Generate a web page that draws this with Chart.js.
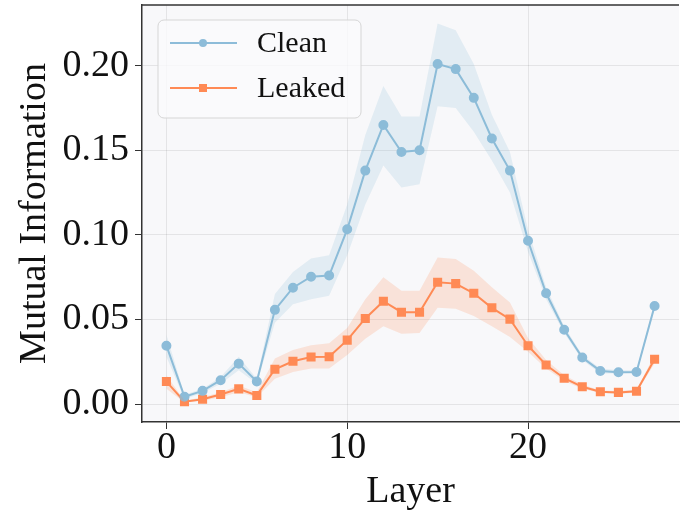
<!DOCTYPE html>
<html>
<head>
<meta charset="utf-8">
<script src="https://cdn.jsdelivr.net/npm/chart.js@4/dist/chart.umd.min.js"></script>
<style>
  html, body { margin: 0; padding: 0; background: #ffffff; overflow: hidden; }
  #wrap { width: 681px; height: 512px; overflow: hidden; }
  /* the plot is clipped on the right like the reference, so the canvas is a bit wider */
  #myChart { display: block; margin-top: -2px; }
</style>
</head>
<body>
<div id="wrap"><canvas id="myChart" width="686" height="514"></canvas></div>
<script>
// data
const layers = [0,1,2,3,4,5,6,7,8,9,10,11,12,13,14,15,16,17,18,19,20,21,22,23,24,25,26,27];

const cleanMean  = [0.0345,0.0043,0.0078,0.0141,0.0239,0.0133,0.0557,0.0688,0.0753,0.0760,0.1033,0.1380,0.1650,0.1490,0.1500,0.2010,0.1980,0.1810,0.1570,0.1380,0.0965,0.0655,0.0439,0.0275,0.0196,0.0188,0.0190,0.0580];
const cleanUpper = [0.0410,0.0055,0.0090,0.0160,0.0280,0.0150,0.0650,0.0780,0.0860,0.0880,0.1180,0.1590,0.1880,0.1700,0.1700,0.2250,0.2210,0.2010,0.1710,0.1490,0.1030,0.0690,0.0460,0.0290,0.0210,0.0200,0.0200,0.0600];
const cleanLower = [0.0280,0.0030,0.0065,0.0120,0.0200,0.0120,0.0480,0.0590,0.0620,0.0640,0.0880,0.1180,0.1410,0.1280,0.1300,0.1760,0.1750,0.1610,0.1440,0.1250,0.0900,0.0620,0.0420,0.0260,0.0180,0.0180,0.0180,0.0560];

const leakMean  = [0.0133,0.0014,0.0029,0.0057,0.0090,0.0051,0.0206,0.0253,0.0278,0.0280,0.0378,0.0506,0.0608,0.0543,0.0543,0.0720,0.0712,0.0655,0.0569,0.0502,0.0345,0.0231,0.0153,0.0102,0.0073,0.0069,0.0076,0.0265];
const leakUpper = [0.0170,0.0020,0.0040,0.0070,0.0110,0.0070,0.0270,0.0320,0.0347,0.0360,0.0450,0.0620,0.0750,0.0670,0.0670,0.0867,0.0857,0.0788,0.0690,0.0600,0.0390,0.0260,0.0170,0.0115,0.0080,0.0077,0.0085,0.0290];
const leakLower = [0.0090,0.0010,0.0020,0.0040,0.0070,0.0040,0.0150,0.0190,0.0210,0.0210,0.0290,0.0386,0.0460,0.0415,0.0420,0.0570,0.0563,0.0520,0.0460,0.0396,0.0310,0.0210,0.0137,0.0090,0.0065,0.0060,0.0068,0.0240];

const xTicks = [0, 10, 20];
const yTicks = [0, 0.05, 0.10, 0.15, 0.20];

const blue = '#8dbcd9';
const orange = '#ff8a55';
const serif = "'Liberation Serif', 'Times New Roman', serif";

function pts(ys) {
  return layers.map((x, i) => ({ x: x, y: ys[i] }));
}

function band(ys, fillTo, color) {
  return {
    data: pts(ys), fill: fillTo, backgroundColor: color,
    borderWidth: 0, pointRadius: 0, pointHoverRadius: 0, tension: 0
  };
}

// plot background, top spine and legend
const decor = {
  id: 'decor',
  beforeDraw(chart) {
    const a = chart.chartArea, c = chart.ctx;
    c.save();
    c.fillStyle = '#f8f8fa';
    c.fillRect(a.left, a.top, a.right - a.left, a.bottom - a.top);
    c.restore();
  },
  afterDraw(chart) {
    const a = chart.chartArea, c = chart.ctx;
    c.save();
    c.strokeStyle = '#333333';
    c.lineWidth = 1.5;
    c.beginPath();
    c.moveTo(a.left, a.top);
    c.lineTo(a.right, a.top);
    c.stroke();

    // legend box (canvas is shifted up 2px)
    const bx = 158, by = 22, bw = 203, bh = 98, r = 6;
    c.beginPath();
    c.roundRect(bx, by, bw, bh, r);
    c.fillStyle = 'rgba(250,250,252,0.8)';
    c.fill();
    c.strokeStyle = '#d6d6d6';
    c.lineWidth = 1;
    c.stroke();

    const items = [
      { label: 'Clean', color: blue, y: 45, marker: 'circle' },
      { label: 'Leaked', color: orange, y: 90, marker: 'rect' }
    ];
    items.forEach(it => {
      c.strokeStyle = it.color;
      c.lineWidth = 2;
      c.beginPath();
      c.moveTo(170, it.y);
      c.lineTo(237, it.y);
      c.stroke();
      c.fillStyle = it.color;
      if (it.marker === 'circle') {
        c.beginPath();
        c.arc(203, it.y, 4, 0, Math.PI * 2);
        c.fill();
      } else {
        c.fillRect(199, it.y - 4, 8, 8);
      }
      c.fillStyle = '#111111';
      c.font = '30px ' + serif;
      c.textBaseline = 'middle';
      c.textAlign = 'left';
      c.fillText(it.label, 257, it.y + 1);
    });
    c.restore();
  }
};

const ctx = document.getElementById('myChart').getContext('2d');

const chartsData = {
  type: 'line',
  data: {
    datasets: [
      band(cleanUpper, '+1', 'rgba(141,188,217,0.2)'),
      band(cleanLower, false, 'rgba(0,0,0,0)'),
      band(leakUpper, '+1', 'rgba(255,138,85,0.2)'),
      band(leakLower, false, 'rgba(0,0,0,0)'),
      {
        label: 'Clean', data: pts(cleanMean), borderColor: blue, backgroundColor: blue,
        borderWidth: 2, pointStyle: 'circle', pointRadius: 4, fill: false, tension: 0
      },
      {
        label: 'Leaked', data: pts(leakMean), borderColor: orange, backgroundColor: orange,
        borderWidth: 2, pointStyle: 'rect', pointRadius: 5, fill: false, tension: 0
      }
    ]
  },
  options: {
    responsive: false,
    animation: false,
    layout: { padding: { top: 3, right: 0, left: 0, bottom: 0 } },
    plugins: { legend: { display: false }, tooltip: { enabled: false } },
    scales: {
      x: {
        type: 'linear', min: -1.35, max: 28.35,
        afterBuildTicks: s => { s.ticks = xTicks.map(v => ({ value: v })); },
        afterFit: s => { s.height = 90; s.paddingLeft = 0; s.paddingRight = 0; },
        ticks: { font: { family: serif, size: 38 }, color: '#111', padding: -4, maxRotation: 0,
                 callback: v => String(v) },
        grid: { color: 'rgba(0,0,0,0.08)', tickColor: '#333', tickLength: 7, lineWidth: 1 },
        border: { color: '#333', width: 1.5 },
        title: { display: true, text: 'Layer', font: { family: serif, size: 38 }, color: '#111', padding: { top: 0, bottom: -3 } }
      },
      y: {
        min: -0.0106, max: 0.2359,
        afterBuildTicks: s => { s.ticks = yTicks.map(v => ({ value: v })); },
        afterFit: s => { s.width = 142; s.paddingTop = 0; s.paddingBottom = 0; },
        ticks: { font: { family: serif, size: 38 }, color: '#111', padding: 6,
                 callback: v => v.toFixed(2) },
        grid: { color: 'rgba(0,0,0,0.08)', tickColor: '#333', tickLength: 7, lineWidth: 1 },
        border: { color: '#333', width: 1.5 },
        title: { display: true, text: 'Mutual Information', font: { family: serif, size: 38 }, color: '#111', padding: { top: 12, bottom: 0 } }
      }
    }
  },
  plugins: [decor]
};

const myChart = new Chart(ctx, chartsData);
</script>
</body>
</html>
